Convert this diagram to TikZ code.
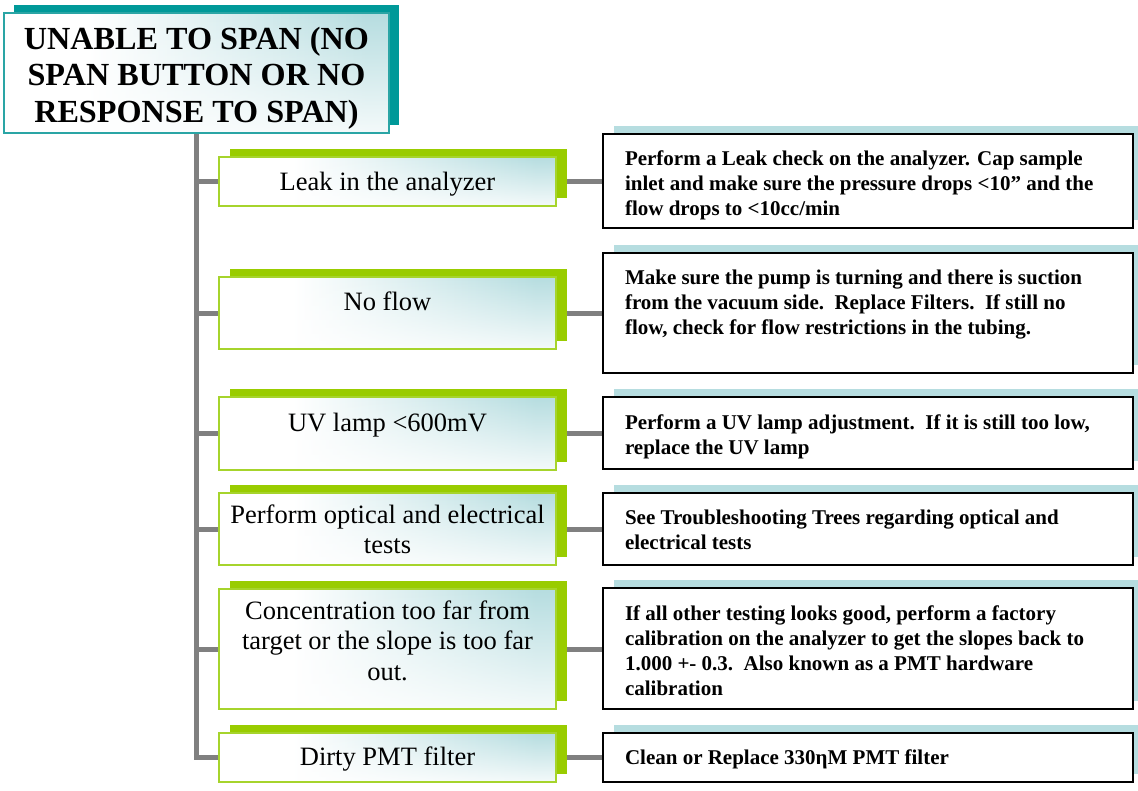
\documentclass[tikz,border=0pt]{standalone}
\usepackage{fontspec}
\setmainfont{Liberation Serif}
\usetikzlibrary{shadows,backgrounds,fadings}

\definecolor{tealdark}{HTML}{009999}
\definecolor{tealedge}{HTML}{2AA5A5}
\definecolor{paleteal}{HTML}{B6DDE0}
\definecolor{limegreen}{HTML}{99CC00}
\definecolor{limeedge}{HTML}{A6D42C}
\definecolor{trunkgray}{HTML}{808080}

% white on the left, pale teal towards the right edge
\pgfdeclarehorizontalshading{sideglow}{100bp}{%
  color(0bp)=(white); color(36bp)=(white); color(72bp)=(paleteal); color(100bp)=(paleteal)}

% text blocks, aligned on the baseline of their first line
\newcommand\midtxt[1]{\parbox[t]{336pt}{\centering\fontsize{26.5}{30.5}\selectfont #1}}
\newcommand\acttxt[1]{\parbox[t]{505pt}{\raggedright\fontsize{21}{25}\selectfont\bfseries #1}}
\newcommand\ttltxt[1]{\parbox[t]{383pt}{\centering\fontsize{32.2}{36.5}\selectfont\bfseries #1}}

\begin{document}
\begin{tikzpicture}[x=1pt,y=-1pt,
  glow/.style={shade, shading=sideglow,
    path picture={\fill[white, opacity=.85, path fading=north]
      (path picture bounding box.south west) rectangle (path picture bounding box.north east);}},
  titlebox/.style={glow, draw=tealedge, line width=1.5pt, inner sep=0pt, outer sep=0pt,
    minimum width=385pt, minimum height=120pt,
    drop shadow={shadow xshift=10pt, shadow yshift=8pt, fill=tealdark, opacity=1}},
  causebox/.style={glow, draw=limeedge, line width=1.5pt, inner sep=0pt, outer sep=0pt,
    minimum width=337pt,
    drop shadow={shadow xshift=11pt, shadow yshift=8pt, fill=limegreen, opacity=1}},
  actionbox/.style={fill=white, draw=black, line width=2pt, inner sep=0pt, outer sep=0pt,
    minimum width=530pt,
    drop shadow={shadow xshift=11pt, shadow yshift=8pt, fill=paleteal, opacity=1}},
  wire/.style={draw=trunkgray, line width=5pt},
  plain/.style={inner sep=0pt, outer sep=0pt}
]
\useasboundingbox (0,0) rectangle (1138,790);

% heading
\node[titlebox] (title) at (196.5,73) {};
\node[plain, anchor=base] (ttl) at ([yshift=-36pt]title.north)
  {\ttltxt{UNABLE TO SPAN (NO\\SPAN BUTTON OR NO\\RESPONSE TO SPAN)}};

% possible causes
\node[causebox, minimum height=49pt]  (m1) at (387.5,181.5) {};
\node[causebox, minimum height=72pt]  (m2) at (387.5,313)   {};
\node[causebox, minimum height=73pt]  (m3) at (387.5,433.5) {};
\node[causebox, minimum height=72pt]  (m4) at (387.5,529)   {};
\node[causebox, minimum height=120pt] (m5) at (387.5,649)   {};
\node[causebox, minimum height=49pt]  (m6) at (387.5,757.5) {};

\node[plain, anchor=base] (c1) at ([yshift=-33pt]m1.north) {\midtxt{Leak in the analyzer}};
\node[plain, anchor=base] (c2) at ([yshift=-33pt]m2.north) {\midtxt{No flow}};
\node[plain, anchor=base] (c3) at ([yshift=-34pt]m3.north) {\midtxt{UV lamp <600mV}};
\node[plain, anchor=base] (c4) at ([yshift=-30pt]m4.north) {\midtxt{Perform optical and electrical\\tests}};
\node[plain, anchor=base] (c5) at ([yshift=-30pt]m5.north) {\midtxt{Concentration too far from\\target or the slope is too far\\out.}};
\node[plain, anchor=base] (c6) at ([yshift=-32pt]m6.north) {\midtxt{Dirty PMT filter}};

% corrective actions
\node[actionbox, minimum height=94pt]  (r1) at (868,181)   {};
\node[actionbox, minimum height=120pt] (r2) at (868,313)   {};
\node[actionbox, minimum height=72pt]  (r3) at (868,433)   {};
\node[actionbox, minimum height=72pt]  (r4) at (868,529)   {};
\node[actionbox, minimum height=121pt] (r5) at (868,648.5) {};
\node[actionbox, minimum height=49pt]  (r6) at (868,757.5) {};

\node[plain, anchor=base west] (a1) at ([xshift=22pt,yshift=-31pt]r1.north west)
  {\acttxt{Perform a Leak check on the analyzer. Cap sample\\inlet and make sure the pressure drops <10” and the\\flow drops to <10cc/min}};
\node[plain, anchor=base west] (a2) at ([xshift=22pt,yshift=-31pt]r2.north west)
  {\acttxt{Make sure the pump is turning and there is suction\\from the vacuum side.\ \ Replace Filters.\ \ If still no\\flow, check for flow restrictions in the tubing.}};
\node[plain, anchor=base west] (a3) at ([xshift=22pt,yshift=-32pt]r3.north west)
  {\acttxt{Perform a UV lamp adjustment.\ \ If it is still too low,\\replace the UV lamp}};
\node[plain, anchor=base west] (a4) at ([xshift=22pt,yshift=-31pt]r4.north west)
  {\acttxt{See Troubleshooting Trees regarding optical and\\electrical tests}};
\node[plain, anchor=base west] (a5) at ([xshift=22pt,yshift=-32pt]r5.north west)
  {\acttxt{If all other testing looks good, perform a factory\\calibration on the analyzer to get the slopes back to\\1.000 +- 0.3.\ \ Also known as a PMT hardware\\calibration}};
\node[plain, anchor=base west] (a6) at ([xshift=22pt,yshift=-31pt]r6.north west)
  {\acttxt{Clean or Replace 330ηM PMT filter}};

% page ground and the connectors, behind the boxes
\begin{pgfonlayer}{background}
  \fill[white] (0,0) rectangle (1138,790);
  \draw[wire] (title.south) -- (title.south |- m6.west) -- (m6.west);
  \foreach \i in {1,...,5}
    \draw[wire] (title.south |- m\i.west) -- (m\i.west);
  \foreach \i in {1,...,6}
    \draw[wire] (m\i.east) -- (m\i.east -| r\i.west);
\end{pgfonlayer}
\end{tikzpicture}
\end{document}
